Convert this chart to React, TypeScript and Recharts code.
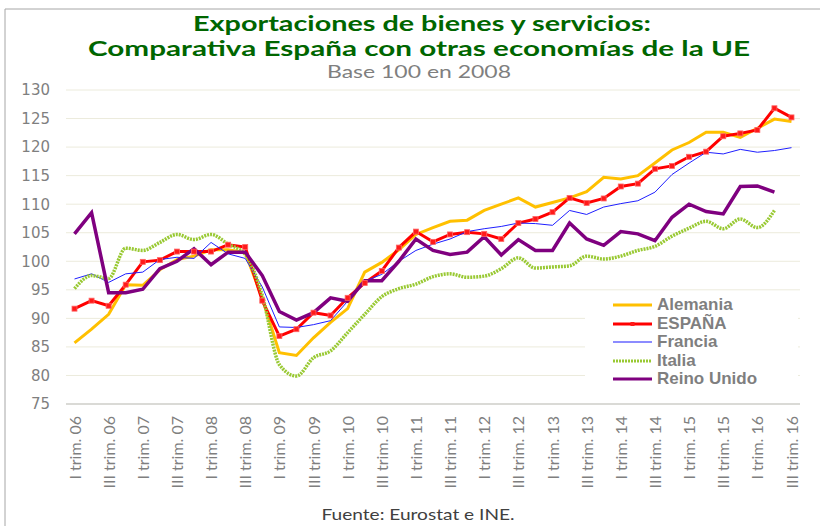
import React from 'react';
import { LineChart, Line, XAxis, YAxis, CartesianGrid, Legend } from 'recharts';

// Quarters I trim. 06 .. III trim. 16
const years = ['06', '07', '08', '09', '10', '11', '12', '13', '14', '15', '16'];
const trims = ['I', 'II', 'III', 'IV'];
const quarters = years.flatMap((y) => trims.map((t) => `${t} trim. ${y}`)).slice(0, 43);

const alemania = [
  85.7, 88.1, 90.7, 95.9, 95.8, 98.5, 100.3, 100.9, 102.0, 102.0, 101.5, 93.5, 84.0, 83.5, 86.6,
  89.3, 91.7, 98.1, 99.8, 102.0, 104.7, 105.9, 107.0, 107.2, 108.9, 110.0, 111.1, 109.5, 110.3,
  111.1, 112.2, 114.7, 114.4, 115.0, 117.2, 119.5, 120.8, 122.6, 122.6, 121.7, 123.3, 124.9, 124.5,
];
const espana = [
  91.7, 93.1, 92.2, 95.9, 99.9, 100.2, 101.7, 101.7, 101.7, 102.9, 102.5, 93.1, 86.9, 88.1, 91.0,
  90.5, 93.6, 96.2, 98.3, 102.4, 105.2, 103.4, 104.7, 105.1, 104.8, 103.9, 106.7, 107.4, 108.6,
  111.1, 110.2, 111.0, 113.1, 113.6, 116.2, 116.7, 118.3, 119.2, 121.9, 122.4, 123.0, 126.8, 125.2,
];
const francia = [
  96.9, 97.8, 96.3, 97.8, 98.1, 100.3, 100.7, 100.5, 103.3, 101.3, 100.5, 95.5, 88.5, 88.4, 88.9,
  89.6, 93.0, 96.5, 97.7, 100.0, 101.9, 103.0, 103.9, 105.2, 105.7, 106.1, 106.7, 106.6, 106.3,
  108.9, 108.2, 109.5, 110.1, 110.6, 112.1, 115.2, 117.2, 119.1, 118.8, 119.6, 119.1, 119.4, 119.9,
];
const italia = [
  95.2, 97.5, 97.0, 102.3, 101.9, 103.3, 104.7, 103.8, 104.7, 103.0, 101.2, 94.0, 81.9, 79.9, 83.1,
  84.3, 87.5, 90.7, 93.8, 95.2, 96.0, 97.3, 97.8, 97.2, 97.4, 98.7, 100.6, 98.8, 99.0,
  99.2, 100.9, 100.4, 100.9, 101.9, 102.6, 104.4, 105.8, 107.0, 105.7, 107.4, 105.9, 108.9, null,
];
const reinoUnido = [
  104.8, 108.5, 94.5, 94.5, 95.1, 98.7, 100.0, 102.2, 99.4, 101.6, 101.6, 97.5, 91.2, 89.7, 91.0,
  93.6, 93.0, 96.6, 96.6, 100.0, 103.9, 101.9, 101.2, 101.6, 104.3, 101.1, 103.8, 101.9, 101.9,
  106.7, 103.9, 102.8, 105.2, 104.8, 103.6, 107.7, 110.0, 108.7, 108.3, 113.1, 113.2, 112.1, null,
];
const yTicks = [75, 80, 85, 90, 95, 100, 105, 110, 115, 120, 125, 130];

const data = quarters.map((q, i) => ({
  q,
  Alemania: alemania[i],
  'ESPAÑA': espana[i],
  Francia: francia[i],
  Italia: italia[i],
  'Reino Unido': reinoUnido[i],
}));

const series = [
  { key: 'Alemania', color: '#ffc000', width: 3 },
  { key: 'ESPAÑA', color: '#ff0000', width: 3, marker: true },
  { key: 'Francia', color: '#1f1fff', width: 1, legendColor: '#8c8cff' },
  { key: 'Italia', color: '#99c933', width: 3.5, dash: '2 1' },
  { key: 'Reino Unido', color: '#7f007f', width: 3.5 },
];

const XTick = ({ x, y, payload }: any) => (
  <text
    transform={`translate(${x + 6},${y + 12}) rotate(-90)`}
    textAnchor="end"
    fontFamily="Lato"
    fontSize={16}
    fill="#7f7f7f"
  >
    {payload.value}
  </text>
);

const SquareDot = (props: any) => {
  const { cx, cy, index } = props;
  if (cx == null || cy == null) return <g key={index} />;
  return <rect key={index} x={cx - 2.5} y={cy - 2.5} width={5} height={5} fill="#ff1a1a" stroke="#ff6666" strokeWidth={0.8} />;
};

const renderLegend = () => (
  <div style={{ paddingTop: 4 }}>
    {series.map((s) => (
      <div key={s.key} style={{ display: 'flex', alignItems: 'center', height: 18.5 }}>
        <svg width={72} height={18} style={{ flex: 'none' }}>
          <line
            x1={28}
            x2={67}
            y1={9}
            y2={9}
            stroke={s.legendColor || s.color}
            strokeWidth={s.width === 1 ? 2 : 3}
            strokeDasharray={s.dash}
          />
          {s.marker && <rect x={45.5} y={7} width={4} height={4} fill="#ff1a1a" />}
        </svg>
        <span
          style={{
            fontFamily: '"Liberation Sans", Arial, sans-serif',
            fontWeight: 700,
            fontSize: 17,
            color: '#7f7f7f',
            lineHeight: '18.5px',
          }}
        >
          {s.key}
        </span>
      </div>
    ))}
  </div>
);

export default function App() {
  return (
    <div style={{ position: 'absolute', left: 0, top: 0, width: 820, height: 526, background: '#fff' }}>
      <LineChart width={820} height={526} data={data} margin={{ top: 90, right: 20, left: 0, bottom: 42 }}>
        <CartesianGrid vertical={false} stroke="#ecebdc" />
        <XAxis
          dataKey="q"
          interval={1}
          height={80}
          tickLine={false}
          tickSize={0}
          tickMargin={0}
          axisLine={{ stroke: '#bfbfbf' }}
          padding={{ left: 8.5, right: 8.5 }}
          tick={<XTick />}
        />
        <YAxis
          width={66}
          domain={[75, 130]}
          ticks={yTicks}
          interval={0}
          axisLine={false}
          tickLine={false}
          tickSize={0}
          tickMargin={16}
          tick={{ fill: '#7f7f7f', fontSize: 15, fontFamily: '"DejaVu Sans", sans-serif' }}
        />
        <Legend
          layout="horizontal"
          verticalAlign="middle"
          align="center"
          wrapperStyle={{ position: 'absolute', left: 585, top: 292, width: 213, height: 100, background: '#fff' }}
          content={renderLegend}
        />
        {series.map((s) => (
          <Line
            key={s.key}
            type={s.key === 'Italia' ? 'monotone' : 'linear'}
            dataKey={s.key}
            stroke={s.color}
            strokeWidth={s.width}
            strokeDasharray={s.dash}
            dot={s.marker ? <SquareDot /> : false}
            activeDot={false}
            isAnimationActive={false}
            connectNulls={false}
          />
        ))}
      </LineChart>
      <svg width={820} height={526} style={{ position: 'absolute', left: 0, top: 0, pointerEvents: 'none' }}>
        <line x1={5} y1={9} x2={820} y2={9} stroke="#a6a6a6" />
        <line x1={5} y1={9} x2={5} y2={526} stroke="#a6a6a6" />
        <text x={422} y={31} textAnchor="middle" fontFamily="Lato" fontWeight={700} fontSize={21} fill="#006600" textLength={458} lengthAdjust="spacingAndGlyphs">
          Exportaciones de bienes y servicios:
        </text>
        <text x={419} y={56} textAnchor="middle" fontFamily="Lato" fontWeight={700} fontSize={21} fill="#006600" textLength={662} lengthAdjust="spacingAndGlyphs">
          Comparativa España con otras economías de la UE
        </text>
        <text x={419} y={78} textAnchor="middle" fontFamily="Lato" fontSize={18} fill="#7f7f7f" textLength={184} lengthAdjust="spacingAndGlyphs">
          Base 100 en 2008
        </text>
        <text x={418} y={520} textAnchor="middle" fontFamily="Lato" fontSize={16} fill="#404040" textLength={193} lengthAdjust="spacingAndGlyphs">
          Fuente: Eurostat e INE.
        </text>
      </svg>
    </div>
  );
}
